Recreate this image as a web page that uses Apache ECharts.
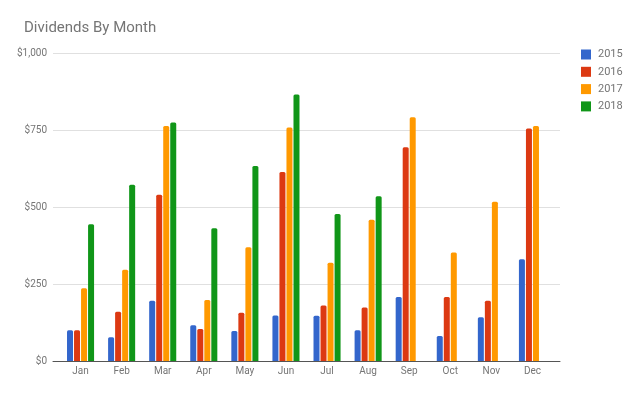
<!DOCTYPE html>
<html><head><meta charset="utf-8">
<script src="https://cdn.jsdelivr.net/npm/echarts@6/dist/echarts.min.js"></script>
<style>html,body{margin:0;padding:0;background:#fff}#c{width:640px;height:395px}</style>
</head><body><div id="c"></div>
<script>
const months = ['Jan','Feb','Mar','Apr','May','Jun','Jul','Aug','Sep','Oct','Nov','Dec'];
const years = ['2015','2016','2017','2018'];
const d2015 = [100, 77, 196, 116, 97, 148, 147, 100, 208, 81, 142, 330];
const d2016 = [100, 160, 540, 104, 157, 614, 180, 174, 694, 208, 196, 755];
const d2017 = [236, 296, 763, 198, 369, 758, 319, 459, 791, 352, 517, 763];
const d2018 = [444, 572, 774, 431, 633, 865, 477, 535, null, null, null, null];
const colors = ['#3366cc','#dc3912','#ff9900','#109618'];
const yTicks = [0, 250, 500, 750, 1000];

const chart = echarts.init(document.getElementById('c'), null, {renderer:'canvas'});
const font = 'Roboto, Arial, sans-serif';
const all = [d2015, d2016, d2017, d2018];
const yMin = yTicks[0], yMax = yTicks[yTicks.length-1], yInt = yTicks[1]-yTicks[0];
chart.setOption({
  animation:false,
  color: colors,
  title:{text:'Dividends By Month', left:19, top:16, textStyle:{fontFamily:font, fontSize:15, fontWeight:'normal', color:'#757575'}},
  legend:{orient:'vertical', left:576, top:44, itemWidth:10, itemHeight:10, itemGap:6.3, icon:'rect',
    textStyle:{fontFamily:font, fontSize:11, color:'#757575', padding:[0,0,0,2]}, data:years},
  grid:[{left:53, right:80, top:53, bottom:34, containLabel:false},
        {left:60, right:87, top:53, bottom:34, containLabel:false}],
  xAxis:[{type:'category', gridIndex:0, data:months, axisTick:{show:false},
    axisLine:{lineStyle:{color:'#555', width:1}}, axisLabel:{show:false}},
    {type:'category', gridIndex:1, data:months, axisTick:{show:false},
    axisLine:{show:false},
    axisLabel:{fontFamily:font, fontSize:10, color:'#757575', margin:5}}],
  yAxis:[{type:'value', gridIndex:0, min:yMin, max:yMax, interval:yInt,
    axisLabel:{fontFamily:font, fontSize:10, color:'#757575', margin:6,
      formatter:v=>'$'+v.toLocaleString('en-US')},
    splitLine:{lineStyle:{color:'#e0e0e0'}}, axisLine:{show:false}, axisTick:{show:false}},
    {type:'value', gridIndex:1, min:yMin, max:yMax, interval:yInt, show:false, splitLine:{show:false}}],
  series: years.map((y,i)=>({name:y, type:'bar', xAxisIndex:1, yAxisIndex:1, data:all[i], barWidth:6, barGap:'17%',
    itemStyle:{borderRadius:[1.5,1.5,0,0]}}))
});
</script></body></html>
